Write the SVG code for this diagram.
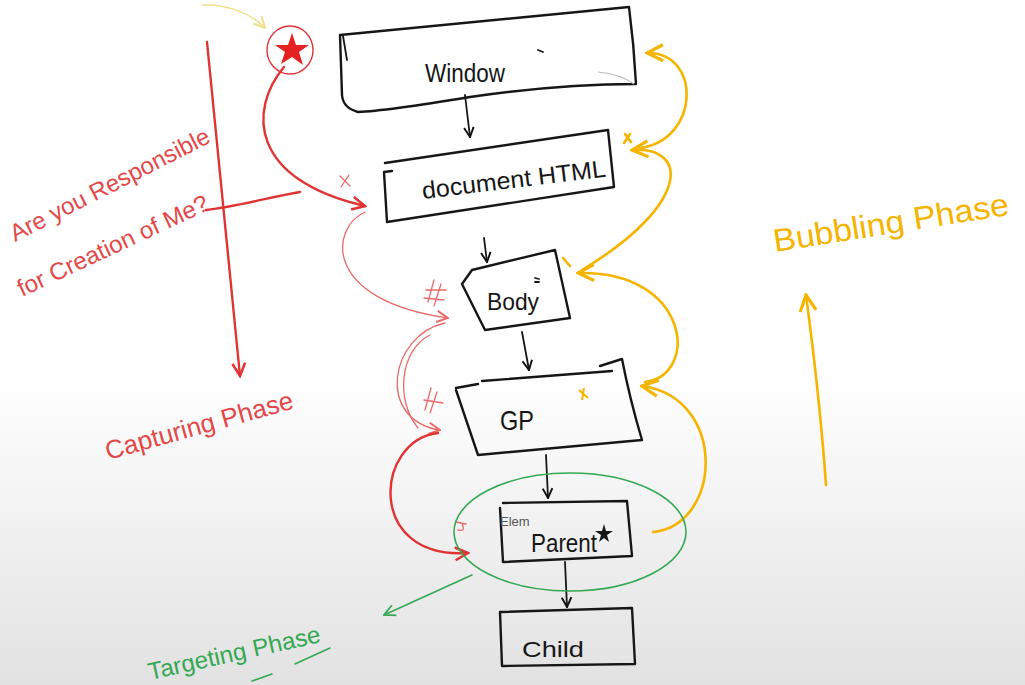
<svg xmlns="http://www.w3.org/2000/svg" width="1025" height="685" viewBox="0 0 1025 685">
<defs>
<linearGradient id="bg" x1="0" y1="0" x2="0" y2="1">
<stop offset="0" stop-color="#ffffff"/>
<stop offset="0.55" stop-color="#ffffff"/>
<stop offset="1" stop-color="#e2e2e2"/>
</linearGradient>
<marker id="mk" viewBox="0 0 10 10" refX="9" refY="5" markerWidth="12" markerHeight="12" markerUnits="userSpaceOnUse" orient="auto"><path d="M1,1 L9,5 L1,9" fill="none" stroke="#111" stroke-width="1.6"/></marker>
<marker id="mr" viewBox="0 0 10 10" refX="9" refY="5" markerWidth="16" markerHeight="16" markerUnits="userSpaceOnUse" orient="auto"><path d="M1,1 L9,5 L1,9" fill="none" stroke="#e03434" stroke-width="1.6"/></marker>
<marker id="mrt" viewBox="0 0 10 10" refX="9" refY="5" markerWidth="14" markerHeight="14" markerUnits="userSpaceOnUse" orient="auto"><path d="M1,1 L9,5 L1,9" fill="none" stroke="#e86a6a" stroke-width="1.4"/></marker>
<marker id="my" viewBox="0 0 10 10" refX="9" refY="5" markerWidth="20" markerHeight="20" markerUnits="userSpaceOnUse" orient="auto"><path d="M1,1 L9,5 L1,9" fill="none" stroke="#f5b400" stroke-width="1.6"/></marker>
<marker id="myl" viewBox="0 0 10 10" refX="9" refY="5" markerWidth="14" markerHeight="14" markerUnits="userSpaceOnUse" orient="auto"><path d="M1,1 L9,5 L1,9" fill="none" stroke="#efe08a" stroke-width="1.4"/></marker>
<marker id="mg" viewBox="0 0 10 10" refX="9" refY="5" markerWidth="14" markerHeight="14" markerUnits="userSpaceOnUse" orient="auto"><path d="M1,1 L9,5 L1,9" fill="none" stroke="#35a853" stroke-width="1.3"/></marker>
</defs>
<style>
.box{fill:none;stroke:#161616;stroke-width:2.4;stroke-linejoin:round;stroke-linecap:round}
.lbl{font-family:"Liberation Sans",Arial,sans-serif;fill:#161616}
.k{fill:none;stroke:#161616;stroke-width:1.8;stroke-linecap:round}
.r{fill:none;stroke:#e03434;stroke-width:2.4;stroke-linecap:round}
.rt{fill:none;stroke:#e86a6a;stroke-width:1.3;stroke-linecap:round}
.y{fill:none;stroke:#f5b400;stroke-width:2.6;stroke-linecap:round}
.g{fill:none;stroke:#35a853;stroke-width:1.6;stroke-linecap:round}
.rtx{font-family:"Liberation Sans",Arial,sans-serif;fill:#e34848}
.ytx{font-family:"Liberation Sans",Arial,sans-serif;fill:#f5b400}
.gtx{font-family:"Liberation Sans",Arial,sans-serif;fill:#35a853}
</style>
<rect width="1025" height="685" fill="url(#bg)"/>

<g id="window">
<path class="box" d="M340,35 L629,7 Q634,45 636,84 Q560,84 470,97 Q385,111 358,112 Q343,108 342,95 L340,35"/>
<path class="k" d="M343,36 L347,60"/>
<path d="M598,72 Q620,74 634,84" fill="none" stroke="#bbbbbb" stroke-width="1.2"/>
<text class="lbl" x="425" y="82" font-size="26" textLength="80" lengthAdjust="spacingAndGlyphs">Window</text>
<path class="k" d="M538,50 L543,52"/>
</g>

<g id="document">
<path class="box" d="M385,163 L608,130 L614,187 L387,222 L384,172 L392,171"/>
<text class="lbl" x="423" y="199" font-size="24" transform="rotate(-7 423 199)" textLength="185" lengthAdjust="spacingAndGlyphs">document HTML</text>
</g>

<g id="body">
<path class="box" d="M472,270 L555,250 L570,318 L485,330 L462,284 L472,270"/>
<text class="lbl" x="487" y="310" font-size="24" textLength="52" lengthAdjust="spacingAndGlyphs">Body</text>
<path class="k" d="M535,278 L539,279 M535,282 L539,282" stroke-width="1"/>
</g>

<g id="gp">
<path class="box" d="M456,388 L478,384 M482,381 L612,371 M600,366 L622,359 Q630,400 642,440 L478,455 L456,390"/>
<text class="lbl" x="500" y="430" font-size="28" textLength="34" lengthAdjust="spacingAndGlyphs">GP</text>
<path d="M579,390 L588,398 M584,388 L582,400" fill="none" stroke="#f5b400" stroke-width="2"/>
</g>

<g id="parent">
<path class="box" d="M503,503 L627,501 L632,556 L503,562 L500,508"/>
<text x="500" y="526" font-size="13" font-family="Liberation Sans, Arial, sans-serif" fill="#555">Elem</text>
<text class="lbl" x="531" y="552" font-size="26" textLength="66" lengthAdjust="spacingAndGlyphs">Parent</text>
<polygon points="604,524 606,531 613,531 607,535 609,542 604,538 599,542 601,535 595,531 602,531" fill="#161616"/>
</g>

<g id="child">
<path class="box" d="M500,612 L632,608 L635,664 L502,666 Z"/>
<text class="lbl" x="522" y="657" font-size="22" textLength="62" lengthAdjust="spacingAndGlyphs">Child</text>
</g>

<g id="connectors">
<path class="k" d="M465,95 L470,137" marker-end="url(#mk)"/>
<path class="k" d="M484,238 L487,262" marker-end="url(#mk)"/>
<path class="k" d="M522,332 L529,370" marker-end="url(#mk)"/>
<path class="k" d="M546,455 L548,498" marker-end="url(#mk)"/>
<path class="k" d="M565,562 L567,607" marker-end="url(#mk)"/>

<path class="r" d="M207,42 L240,376" stroke-width="1.5" stroke="#e55050" marker-end="url(#mr)"/>
<path class="r" d="M284,67 C248,110 250,180 365,206" marker-end="url(#mr)"/>
<path class="r" d="M206,210 C240,206 270,197 300,192" stroke-width="1.8"/>
<path class="rt" d="M365,212 C330,228 322,300 448,318" marker-end="url(#mrt)"/>
<path class="rt" d="M445,323 C390,335 375,420 440,430" stroke-width="1.5" marker-end="url(#mrt)"/>
<path class="rt" d="M430,335 C400,350 395,400 418,428"/>
<path class="r" d="M438,433 C375,440 365,560 468,553" stroke-width="2" marker-end="url(#mr)"/>
<path class="rt" d="M340,176 L350,186 M349,175 L341,187"/>
<path class="rt" d="M434,280 L428,302 M441,284 L434,306 M426,290 L446,290 M424,298 L444,300"/>
<path class="rt" d="M431,388 L425,410 M437,392 L430,413 M424,400 L443,403"/>
<path class="rt" d="M456,522 L466,524 M458,530 Q466,532 462,524"/>

<path class="y" d="M653,532 C722,525 728,398 642,386" stroke-width="3.8" marker-end="url(#my)"/>
<path class="y" d="M645,382 C700,375 690,270 578,273" marker-end="url(#my)"/>
<path class="y" d="M582,270 C690,205 690,146 632,150" marker-end="url(#my)"/>
<path class="y" d="M640,148 C700,140 702,52 647,53" marker-end="url(#my)"/>
<path class="y" d="M826,485 C820,400 812,340 806,295" stroke-width="3" marker-end="url(#my)"/>
<path class="y" d="M625,134 L631,142 M630,134 L624,143" stroke-width="1.6"/>
<path class="y" d="M563,258 L570,266" stroke-width="1.6"/>
<path d="M202,5 C228,4 252,14 265,28" fill="none" stroke="#efe08a" stroke-width="1.5" marker-end="url(#myl)"/>

<ellipse class="g" cx="570" cy="532" rx="116" ry="59"/>
<path class="g" d="M472,575 L384,615" marker-end="url(#mg)"/>
</g>

<g id="star">
<ellipse cx="290" cy="50" rx="23" ry="24" fill="none" stroke="#e03434" stroke-width="1.4"/>
<polygon points="292,33 296,45 309,45 299,52 303,65 292,57 281,64 285,52 275,45 288,45" fill="#e52222"/>
</g>

<g id="labels">
<text class="rtx" x="15" y="242" font-size="24" transform="rotate(-27 15 242)" textLength="221" lengthAdjust="spacingAndGlyphs">Are you Responsible</text>
<text class="rtx" x="22" y="297" font-size="24" transform="rotate(-25 22 297)" textLength="208" lengthAdjust="spacingAndGlyphs">for Creation of Me?</text>
<text class="rtx" x="108" y="460" font-size="26" transform="rotate(-15.5 108 460)" textLength="194" lengthAdjust="spacingAndGlyphs">Capturing Phase</text>
<text class="ytx" x="775" y="252" font-size="32" transform="rotate(-9 775 252)" textLength="238" lengthAdjust="spacingAndGlyphs">Bubbling Phase</text>
<text class="gtx" x="150" y="680" font-size="24" transform="rotate(-12.5 150 680)" textLength="176" lengthAdjust="spacingAndGlyphs">Targeting Phase</text>
<path class="g" d="M252,681 L272,674 M295,664 L330,648"/>
</g>
</svg>
